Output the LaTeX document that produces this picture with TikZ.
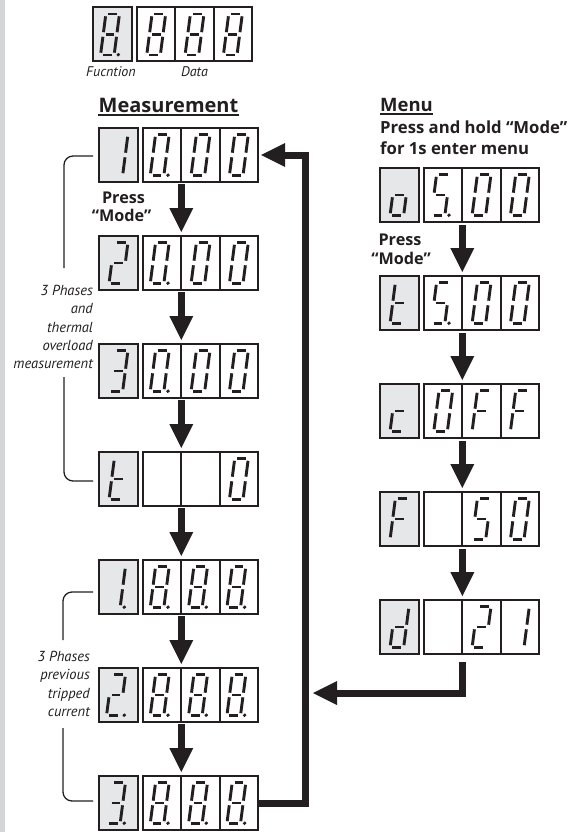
\documentclass[tikz,border=0pt]{standalone}
\usepackage{fontspec}
\setmainfont{PT Sans}
\newfontfamily\hdrfont{Open Sans}
\usetikzlibrary{arrows.meta}
\definecolor{ink}{HTML}{231F20}
\definecolor{fngray}{HTML}{E6E7E8}
\definecolor{stripgray}{HTML}{D4D5D7}
\tikzset{
 fnbox/.style={draw=ink, line width=2pt, fill=fngray, minimum width=39pt, minimum height=54pt, inner sep=0pt, outer sep=0pt},
 cell/.style={draw=ink, line width=2pt, fill=white, minimum width=38.33pt, minimum height=54pt, inner sep=0pt, outer sep=0pt},
 seg/.style={draw=ink, line width=2.9pt},
 flow/.style={draw=ink, line width=7pt, line join=miter, -{Triangle[width=24pt,length=24pt,line width=0pt]}},
 brk/.style={draw=ink, line width=1.3pt, rounded corners=9pt},
 uline/.style={draw=ink, line width=1.6pt},
 lbl/.style={inner sep=0pt, text=ink, font=\itshape\fontsize{14.5}{18.3}\selectfont, align=right},
 small/.style={inner sep=0pt, text=ink, font=\itshape\fontsize{14}{16}\selectfont},
 hdrA/.style={inner sep=0pt, text=ink, font=\hdrfont\bfseries\fontsize{20}{24}\selectfont},
 hdrB/.style={inner sep=0pt, text=ink, font=\hdrfont\bfseries\fontsize{18.5}{21}\selectfont},
 boldm/.style={inner sep=0pt, text=ink, font=\hdrfont\bfseries\fontsize{16.7}{20}\selectfont},
 bold/.style={inner sep=0pt, text=ink, font=\hdrfont\bfseries\fontsize{16.2}{19}\selectfont},
}
% seven segment pieces (local coords, y up)
\expandafter\def\csname dsga\endcsname{\draw[seg] (-4.4,20.5)--(4.4,20.5);}
\expandafter\def\csname dsgb\endcsname{\draw[seg] (6.8,18.2)--(6.8,2.3);}
\expandafter\def\csname dsgc\endcsname{\draw[seg] (6.8,-2.3)--(6.8,-18.2);}
\expandafter\def\csname dsgd\endcsname{\draw[seg] (-4.4,-20.5)--(4.4,-20.5);}
\expandafter\def\csname dsge\endcsname{\draw[seg] (-6.8,-2.3)--(-6.8,-18.2);}
\expandafter\def\csname dsgf\endcsname{\draw[seg] (-6.8,18.2)--(-6.8,2.3);}
\expandafter\def\csname dsgg\endcsname{\draw[seg] (-4.4,0)--(4.4,0);}
\expandafter\def\csname dsgp\endcsname{\fill[ink] (10.9,-20.2) circle (1.9);}
\newcommand\dig[2]{\begin{scope}[shift={(#1.center)},x=1pt,y=1pt,xslant=0.13]\foreach \s in {#2}{\csname dsg\s\endcsname}\end{scope}}
\newcommand\digp[2]{\begin{scope}[shift={(#1.center)},xshift=-2.5pt,x=1pt,y=1pt,xslant=0.13]\foreach \s in {#2,p}{\csname dsg\s\endcsname}\end{scope}}
\newcommand\mkdisp[3]{%
 \node[fnbox] (#1f) at (#2,#3) {};
 \node[cell] (#1a) at (#2+43.7,#3) {};
 \node[cell] (#1b) at (#2+82.03,#3) {};
 \node[cell] (#1c) at (#2+120.36,#3) {};}
\begin{document}
\begin{tikzpicture}[x=1pt,y=-1pt]
\useasboundingbox (0,0) rectangle (571,832);
\fill[white] (0,0) rectangle (571,832);
\fill[stripgray] (0,0) rectangle (5,832);

% top legend display
\mkdisp{top}{112.5}{34.5}
\digp{topf}{a,b,c,d,e,f,g}
\dig{topa}{a,b,c,d,e,f,g}
\dig{topb}{a,b,c,d,e,f,g}
\dig{topc}{a,b,c,d,e,f,g}
\node[small, anchor=base] (fucn) at (111,77) {Fucntion};
\node[small, anchor=base] (datal) at (194.5,77) {Data};

% headers
\node[hdrA, anchor=base] (meas) at (168.5,112.7) {Measurement};
\draw[uline] ([yshift=-2.6pt]meas.base west) -- ([yshift=-2.6pt]meas.base east);
\node[hdrB, anchor=base west] (menu) at (380,112) {Menu};
\draw[uline] ([yshift=-2pt]menu.base west) -- ([yshift=-2pt]menu.base east);
\node[boldm, anchor=base west] (hold1) at (380,133.3) {Press and hold “Mode”};
\node[boldm, anchor=base west] (hold2) at (380,154) {for 1s enter menu};

% measurement column
\mkdisp{m1}{118.5}{155}
\mkdisp{m2}{118.5}{263}
\mkdisp{m3}{118.5}{371}
\mkdisp{m4}{118.5}{479}
\mkdisp{m5}{118.5}{587}
\mkdisp{m6}{118.5}{695}
\mkdisp{m7}{118.5}{803}
\dig{m1f}{b,c} \digp{m1a}{a,b,c,d,e,f} \dig{m1b}{a,b,c,d,e,f} \dig{m1c}{a,b,c,d,e,f}
\dig{m2f}{a,b,g,e,d} \digp{m2a}{a,b,c,d,e,f} \dig{m2b}{a,b,c,d,e,f} \dig{m2c}{a,b,c,d,e,f}
\dig{m3f}{a,b,g,c,d} \digp{m3a}{a,b,c,d,e,f} \dig{m3b}{a,b,c,d,e,f} \dig{m3c}{a,b,c,d,e,f}
\dig{m4f}{d,e,f,g} \dig{m4c}{a,b,c,d,e,f}
\digp{m5f}{b,c} \digp{m5a}{a,b,c,d,e,f,g} \digp{m5b}{a,b,c,d,e,f,g} \digp{m5c}{a,b,c,d,e,f,g}
\digp{m6f}{a,b,g,e,d} \digp{m6a}{a,b,c,d,e,f,g} \digp{m6b}{a,b,c,d,e,f,g} \digp{m6c}{a,b,c,d,e,f,g}
\digp{m7f}{a,b,g,c,d} \digp{m7a}{a,b,c,d,e,f,g} \digp{m7b}{a,b,c,d,e,f,g} \digp{m7c}{a,b,c,d,e,f,g}

\node[bold, anchor=base] (mpress) at (123.5,203.3) {Press};
\node[bold, anchor=base] (mmode) at (121.5,221.7) {“Mode”};

\foreach \i/\j in {1/2,2/3,3/4,4/5,5/6,6/7}
  \draw[flow] ([yshift=-2pt]m\i a.south east) -- ([yshift=4pt]m\j a.north east);

% menu column
\mkdisp{n1}{399.5}{195}
\mkdisp{n2}{399.5}{303}
\mkdisp{n3}{399.5}{411}
\mkdisp{n4}{399.5}{519}
\mkdisp{n5}{399.5}{627}
\dig{n1f}{c,d,e,g} \digp{n1a}{a,f,g,c,d} \dig{n1b}{a,b,c,d,e,f} \dig{n1c}{a,b,c,d,e,f}
\dig{n2f}{d,e,f,g} \digp{n2a}{a,f,g,c,d} \dig{n2b}{a,b,c,d,e,f} \dig{n2c}{a,b,c,d,e,f}
\dig{n3f}{d,e,g} \dig{n3a}{a,b,c,d,e,f} \dig{n3b}{a,e,f,g} \dig{n3c}{a,e,f,g}
\dig{n4f}{a,e,f,g} \dig{n4b}{a,f,g,c,d} \dig{n4c}{a,b,c,d,e,f}
\dig{n5f}{b,c,d,e,g} \dig{n5b}{a,b,g,e,d} \dig{n5c}{b,c}

\node[bold, anchor=base] (npress) at (400,245) {Press};
\node[bold, anchor=base] (nmode) at (401,264) {“Mode”};

\foreach \i/\j in {1/2,2/3,3/4,4/5}
  \draw[flow] ([yshift=-3pt]n\i a.south east) -- ([yshift=4pt]n\j a.north east);

% loop back
\coordinate (lpB) at (305,803);
\coordinate (lpT) at (305,155);
\draw[flow] (m7c.east) -- (lpB) -- (lpT) -- ([xshift=3pt]m1c.east);
\coordinate (ret) at (313,693);
\draw[flow] ([yshift=-8pt]n5a.south east) |- (ret);

% brackets and labels
\coordinate (b1a) at (64,268);
\coordinate (b1b) at (64,377);
\draw[brk] ([xshift=-6pt,yshift=-1pt]m1f.west) -| (b1a);
\draw[brk] (b1b) |- ([xshift=-6pt,yshift=-2pt]m4f.west);
\node[lbl, anchor=east] (txt1) at (93,327) {3 Phases\\and\\thermal\\overload\\measurement};

\coordinate (b2a) at (63,640);
\coordinate (b2b) at (63,728);
\draw[brk] ([xshift=-6pt,yshift=-5pt]m5f.west) -| (b2a);
\draw[brk] (b2b) |- ([xshift=-6pt,yshift=2pt]m7f.west);
\node[lbl, anchor=east] (txt2) at (90,684) {3 Phases\\previous\\tripped\\current};
\end{tikzpicture}
\end{document}
